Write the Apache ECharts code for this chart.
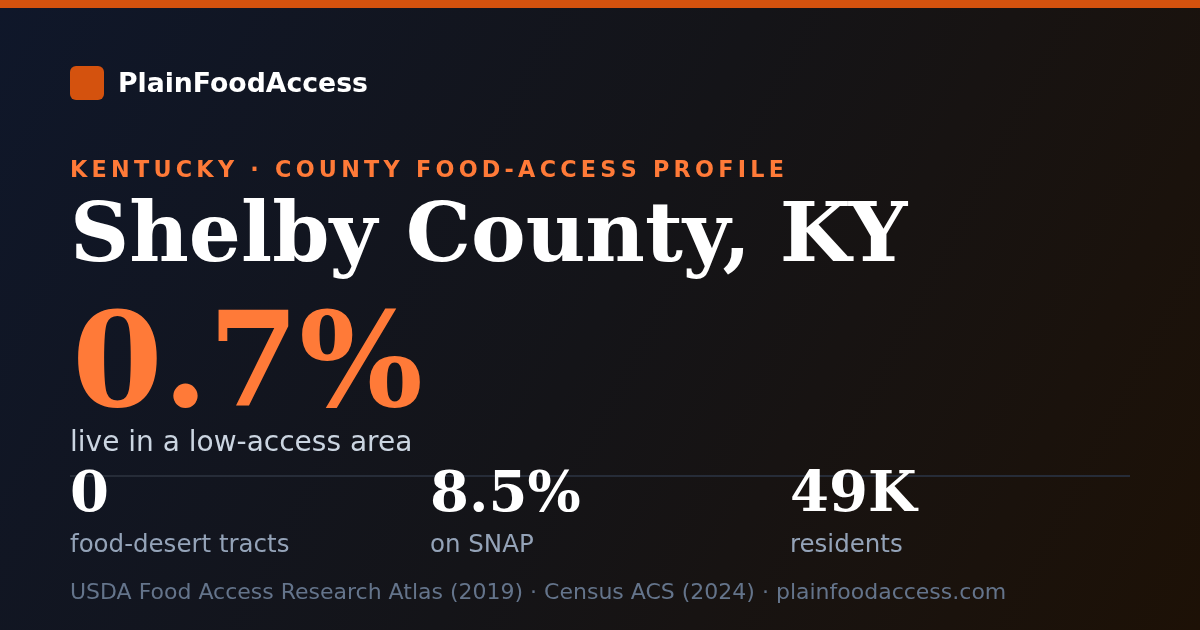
<!DOCTYPE html>
<html><head><meta charset="utf-8">
<script src="https://cdn.jsdelivr.net/npm/echarts@6/dist/echarts.min.js"></script>
<style>html,body{margin:0;padding:0;background:#111}#c{width:1200px;height:630px}</style>
</head><body><div id="c"></div>
<script>
const brand = "PlainFoodAccess";
const kicker = "KENTUCKY · COUNTY FOOD-ACCESS PROFILE";
const title = "Shelby County, KY";
const headlineValue = "0.7%";
const headlineLabel = "live in a low-access area";
const statValues = ["0", "8.5%", "49K"];
const statLabels = ["food-desert tracts", "on SNAP", "residents"];
const footer = "USDA Food Access Research Atlas (2019) · Census ACS (2024) · plainfoodaccess.com";

const SANS = '"DejaVu Sans"';
const SERIF = '"DejaVu Serif"';
const chart = echarts.init(document.getElementById('c'), null, {renderer:'canvas'});
const g = [];
// place text by baseline (top-aligned offset ~0.79em)
function txt(x, baseline, text, font, size, fill, extra){
  g.push(Object.assign({type:'text', x:x, y:baseline - 0.79*size, z:2,
    style:{text:text, font:font.replace('SIZE', size+'px'), fill:fill, textVerticalAlign:'top'}}, extra||{}));
}
g.push({type:'rect', shape:{x:0,y:0,width:1200,height:630}, style:{fill:new echarts.graphic.LinearGradient(0,0,1,1,[{offset:0,color:'#0f172a'},{offset:0.5,color:'#141418'},{offset:1,color:'#1d1106'}])}, z:0});
g.push({type:'rect', shape:{x:0,y:0,width:1200,height:8}, style:{fill:'#d4520e'}, z:1});
g.push({type:'rect', shape:{x:70,y:66,width:34,height:34,r:6}, style:{fill:'#d4520e'}, z:1});
txt(118, 93, brand, 'bold SIZE '+SANS, 26.7, '#ffffff');
// kicker with letter spacing
(function(){
  const size = 22.3, spacing = 4.25;
  const ctx = document.createElement('canvas').getContext('2d');
  ctx.font = 'bold '+size+'px '+SANS;
  let x = 70;
  for (const ch of kicker){
    if (ch !== ' ') txt(x, 177.5, ch, 'bold SIZE '+SANS, size, '#ff7a38');
    x += ctx.measureText(ch).width + spacing;
  }
})();
txt(70, 263, title, 'bold SIZE '+SERIF, 82, '#ffffff');
txt(72, 410, headlineValue, 'bold SIZE '+SERIF, 130.5, '#ff7a38');
txt(70, 452, headlineLabel, 'SIZE '+SANS, 28, '#cbd5e1');
g.push({type:'rect', shape:{x:70,y:475,width:1060,height:2}, style:{fill:'#262c38'}, z:1});
const cols = [70, 430, 790];
statValues.forEach((v,i)=>{
  txt(cols[i], 513, v, 'bold SIZE '+SERIF, 56, '#ffffff');
  txt(cols[i], 552, statLabels[i], 'SIZE '+SANS, 24.5, '#94a3b8');
});
txt(70, 600, footer, 'SIZE '+SANS, 22, '#64748b');
chart.setOption({animation:false, graphic:g});
</script></body></html>
